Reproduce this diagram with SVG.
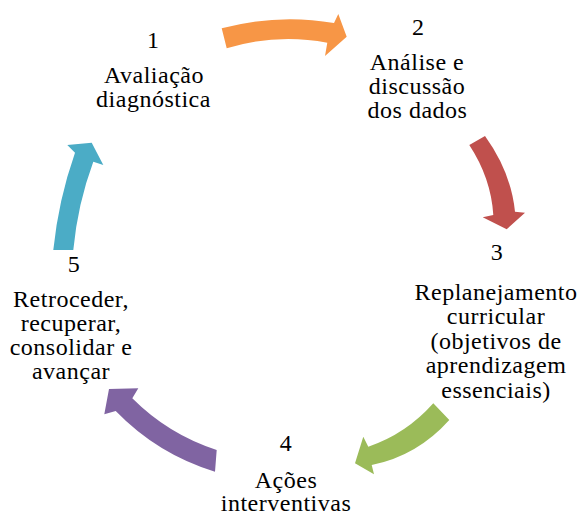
<svg xmlns="http://www.w3.org/2000/svg" width="577" height="516" viewBox="0 0 577 516">
<style>
text{font-family:'Liberation Serif','DejaVu Serif',serif;font-size:24px;fill:#000;text-anchor:middle;letter-spacing:0.5px}
</style>
<rect width="577" height="516" fill="#fff"/>
<g id="connectors">
<path id="a1" fill="#F79646" d="M221.7,28.3 Q278.2,13.2 334,23 L338.3,14 L346.7,36.7 L325,56 L327.3,42.7 Q276.7,33.1 226.7,48.3 Z"/>
<path id="a2" fill="#C0504D" d="M469.3,145 L485,136 Q511,172 515,211.7 L525,212.7 L506.7,229.3 L482.7,217.3 L493.3,215 Q491,178 469.3,145 Z"/>
<path id="a3" fill="#9BBB59" d="M433.3,403.3 Q406,434 368.3,446.7 L363.3,436.7 L355,463.3 L374,474.3 L371.7,465 Q417,456 449.3,420 Z"/>
<path id="a4" fill="#8064A2" d="M216.7,450 Q168.3,434.4 132.3,398.3 L138.3,388.3 L109,389 L104.3,414.3 L115.7,411 Q157.6,454.2 215,471.7 Z"/>
<path id="a5" fill="#4BACC6" d="M53.3,250 Q58.4,200 75,152.7 L67.3,145 L91.7,142.7 L103.3,165 L93.3,161.7 Q77.5,204.5 73.3,250 Z"/>
</g>
<g id="n1">
<text x="153.3" y="48">1</text>
<text x="154" y="83.3">Avaliação</text>
<text x="153.5" y="107">diagnóstica</text>
</g>
<g id="n2">
<text x="418.3" y="35">2</text>
<text x="417" y="70">Análise e</text>
<text x="417" y="94.3">discussão</text>
<text x="417.5" y="118.3">dos dados</text>
</g>
<g id="n3">
<text x="497" y="260">3</text>
<text x="496" y="299.5">Replanejamento</text>
<text x="496" y="324">curricular</text>
<text x="496" y="348.5">(objetivos de</text>
<text x="496" y="373">aprendizagem</text>
<text x="496" y="397.5">essenciais)</text>
</g>
<g id="n4">
<text x="286" y="451">4</text>
<text x="286" y="488">Ações</text>
<text x="286" y="511">interventivas</text>
</g>
<g id="n5">
<text x="74" y="272">5</text>
<text x="71" y="307">Retroceder,</text>
<text x="71" y="331">recuperar,</text>
<text x="71" y="355">consolidar e</text>
<text x="71" y="379">avançar</text>
</g>
</svg>
